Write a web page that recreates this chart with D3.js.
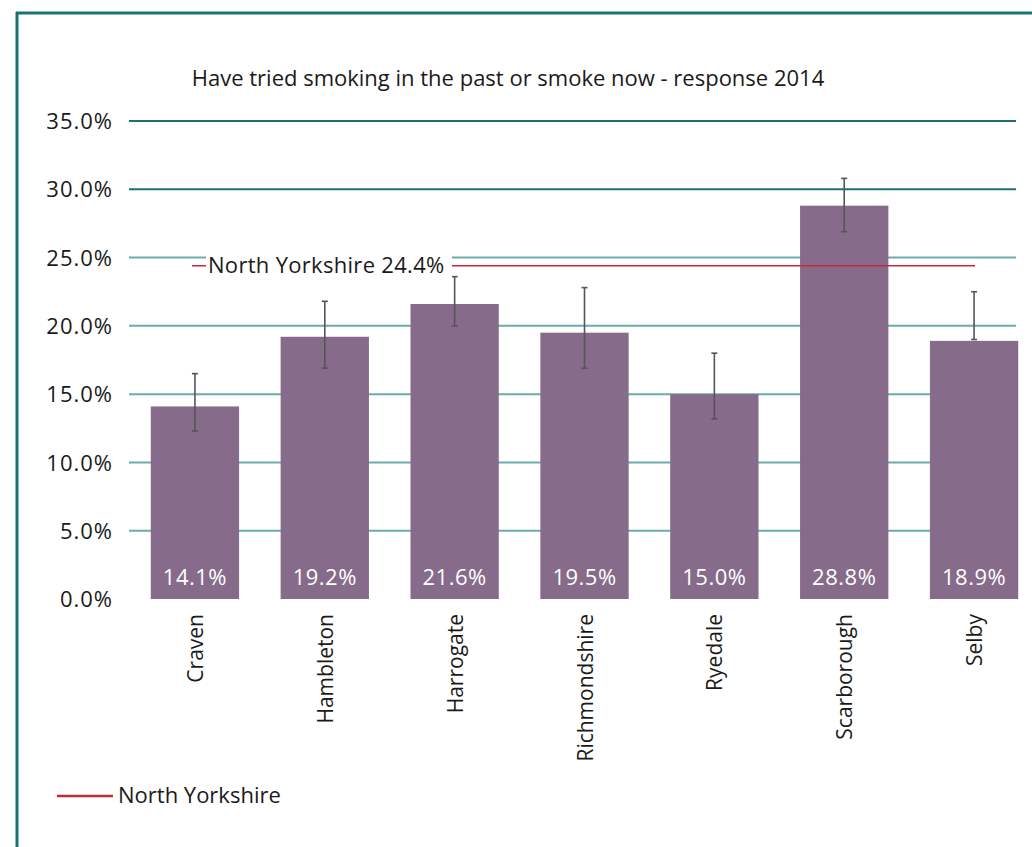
<!DOCTYPE html>
<html>
<head>
<meta charset="utf-8">
<script src="https://cdn.jsdelivr.net/npm/d3@7"></script>
<style>
  body { margin: 0; background: #fff; }
  text { font-family: "Open Sans", Lato, sans-serif; }
</style>
</head>
<body>
<svg id="chart" width="1032" height="847"></svg>
<script>
// chart values
const districts = ["Craven", "Hambleton", "Harrogate", "Richmondshire", "Ryedale", "Scarborough", "Selby"]
const values    = [14.1, 19.2, 21.6, 19.5, 15.0, 28.8, 18.9]
const errLow    = [12.3, 16.9, 20.0, 16.9, 13.2, 26.9, 19.0]
const errHigh   = [16.5, 21.8, 23.6, 22.8, 18.0, 30.8, 22.5]
const yTicks    = [0, 5, 10, 15, 20, 25, 30, 35]
const northYorks = 24.4

const title = "Have tried smoking in the past or smoke now - response 2014"

const svg = d3.select("#chart")

// frame
svg.append("line").attr("x1", 17).attr("x2", 17).attr("y1", 12).attr("y2", 847)
  .style("stroke", "#1b7272").style("stroke-width", 3)
svg.append("line").attr("x1", 16).attr("x2", 1032).attr("y1", 13).attr("y2", 13)
  .style("stroke", "#1b7272").style("stroke-width", 3)

const x = d3.scaleBand()
  .domain(districts)
  .range([130, 1039])
  .paddingInner(0.32)
  .paddingOuter(0.16)

const y = d3.scaleLinear().domain([0, 35]).range([599, 121])

// grid
svg.append("g").selectAll("line.grid")
  .data(yTicks.filter(d => d > 0))
  .enter().append("line")
  .attr("class", "grid")
  .attr("x1", 129).attr("x2", 1016)
  .attr("y1", d => y(d)).attr("y2", d => y(d))
  .style("stroke", d => d >= 30 ? "#1f6f70" : "#6cabad")
  .style("stroke-width", 2)

// y axis labels
let yAxis = svg.append("g")
  .attr("transform", "translate(129,0)")
  .call(d3.axisLeft(y).tickValues(yTicks).tickSize(0).tickPadding(16).tickFormat(d => d.toFixed(1) + "%"))
yAxis.select(".domain").remove()
yAxis.selectAll("text").style("font-size", "22px").style("letter-spacing", "1px")
  .style("fill", "#1a1a1a").attr("dy", "0.35em")

// bars
svg.selectAll("rect.bar")
  .data(districts)
  .enter().append("rect")
  .attr("class", "bar")
  .attr("x", d => x(d))
  .attr("width", x.bandwidth())
  .attr("y", (d, i) => y(values[i]))
  .attr("height", (d, i) => y(0) - y(values[i]))
  .style("fill", "#866b8a")

// error bars
let err = svg.append("g").selectAll("g.err")
  .data(districts)
  .enter().append("g")
  .attr("class", "err")
  .style("stroke", "#555")
  .style("stroke-width", 1.6)
err.append("line")
  .attr("x1", d => x(d) + x.bandwidth() / 2).attr("x2", d => x(d) + x.bandwidth() / 2)
  .attr("y1", (d, i) => y(errHigh[i])).attr("y2", (d, i) => y(errLow[i]))
err.append("line")
  .attr("x1", d => x(d) + x.bandwidth() / 2 - 3).attr("x2", d => x(d) + x.bandwidth() / 2 + 3)
  .attr("y1", (d, i) => y(errHigh[i])).attr("y2", (d, i) => y(errHigh[i]))
err.append("line")
  .attr("x1", d => x(d) + x.bandwidth() / 2 - 3).attr("x2", d => x(d) + x.bandwidth() / 2 + 3)
  .attr("y1", (d, i) => y(errLow[i])).attr("y2", (d, i) => y(errLow[i]))

// value labels
svg.selectAll("text.val")
  .data(districts)
  .enter().append("text")
  .attr("class", "val")
  .attr("x", d => x(d) + x.bandwidth() / 2)
  .attr("y", y(0) - 14)
  .attr("text-anchor", "middle")
  .style("font-size", "22px")
  .style("letter-spacing", "0.5px")
  .style("fill", "#fff")
  .text((d, i) => values[i].toFixed(1) + "%")

// north yorkshire reference line
svg.append("line")
  .attr("x1", 192).attr("x2", 975)
  .attr("y1", y(northYorks)).attr("y2", y(northYorks))
  .style("stroke", "#c8283a").style("stroke-width", 1.6)
svg.append("rect")
  .attr("x", 206).attr("y", y(northYorks) - 14)
  .attr("width", 246).attr("height", 28)
  .style("fill", "#fff")
svg.append("text")
  .attr("x", 208).attr("y", y(northYorks) + 7)
  .style("font-size", "22px").style("letter-spacing", "0.3px").style("fill", "#1a1a1a")
  .text("North Yorkshire " + northYorks.toFixed(1) + "%")

// category labels
svg.selectAll("text.cat")
  .data(districts)
  .enter().append("text")
  .attr("class", "cat")
  .attr("transform", d => "translate(" + (x(d) + x.bandwidth() / 2 + 8) + ",614) rotate(-90)")
  .attr("text-anchor", "end")
  .style("font-size", "21px")
  .style("fill", "#1a1a1a")
  .text(d => d)

// title
svg.append("text")
  .attr("x", 508).attr("y", 86)
  .attr("text-anchor", "middle")
  .style("font-size", "22px").style("fill", "#1a1a1a")
  .text(title)

// legend
svg.append("line").attr("x1", 57).attr("x2", 113).attr("y1", 796).attr("y2", 796)
  .style("stroke", "#c8283a").style("stroke-width", 2.5)
svg.append("text").attr("x", 118).attr("y", 803)
  .style("font-size", "22px").style("fill", "#1a1a1a")
  .text("North Yorkshire")
</script>
</body>
</html>
